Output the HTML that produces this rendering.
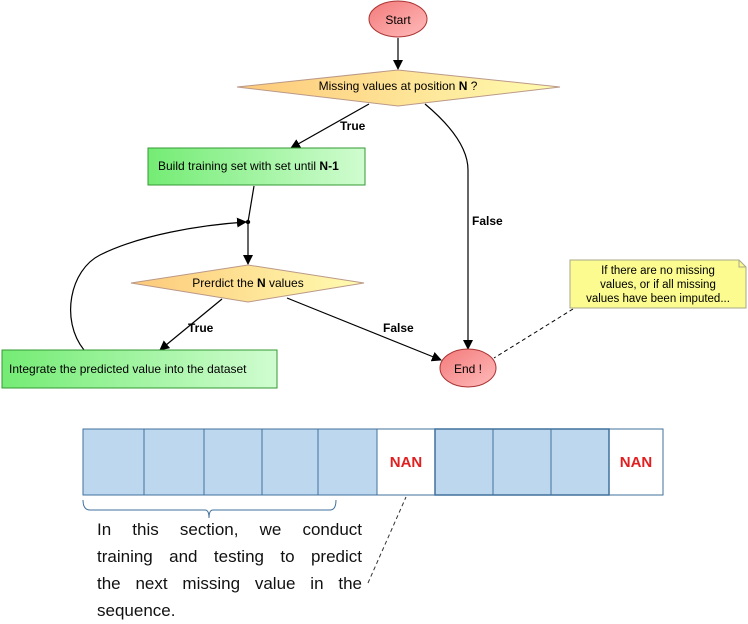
<!DOCTYPE html>
<html><head><style>
body{margin:0;background:#fff;width:748px;height:622px;overflow:hidden;position:relative;font-family:"Liberation Sans",sans-serif}
.t{position:absolute;left:97px;width:265px;font-size:17px;line-height:27px;text-align:justify;text-align-last:justify;color:#111}
</style></head><body>
<svg width="748" height="622" style="position:absolute;left:0;top:0" font-family="Liberation Sans, sans-serif">
<defs>
<linearGradient id="r" x1="0" y1="0" x2="1" y2="1"><stop offset="0" stop-color="#f37a7a"/><stop offset="1" stop-color="#fbb"/></linearGradient>
<linearGradient id="y" x1="0" y1="0" x2="1" y2="0"><stop offset="0" stop-color="#fdc97a"/><stop offset="1" stop-color="#fffcb0"/></linearGradient>
<linearGradient id="g" x1="0" y1="0" x2="1" y2="0"><stop offset="0" stop-color="#74ec74"/><stop offset="1" stop-color="#d0fcd0"/></linearGradient>
<marker id="a" markerWidth="10" markerHeight="10" refX="9" refY="5" orient="auto" markerUnits="userSpaceOnUse"><path d="M0,0 L10,5 L0,10 z" fill="#000"/></marker>
</defs>
<g stroke="#000" stroke-width="1.2" fill="none">
<line x1="398" y1="38" x2="398" y2="69" marker-end="url(#a)"/>
<line x1="369" y1="104" x2="291" y2="148" marker-end="url(#a)"/>
<path d="M425,104 Q468,140 468,170 L468,349" marker-end="url(#a)"/>
<line x1="254" y1="186" x2="248" y2="222"/>
<line x1="248" y1="222" x2="248" y2="264" marker-end="url(#a)"/>
<path d="M84,350 C60,320 70,270 100,255 C140,235 200,225 246,222" marker-end="url(#a)"/>
<line x1="222" y1="299" x2="160" y2="350" marker-end="url(#a)"/>
<line x1="287" y1="298" x2="441" y2="360" marker-end="url(#a)"/>
<line x1="573" y1="309" x2="494" y2="358" stroke-dasharray="4,3" stroke-width="1"/>
</g>
<circle cx="248" cy="222" r="2.2" fill="#000"/>
<ellipse cx="398" cy="19" rx="29" ry="18" fill="url(#r)" stroke="#a33" stroke-width="1"/>
<text x="398" y="24" font-size="12" text-anchor="middle">Start</text>
<polygon points="237,87 398,70 560,87 398,106" fill="url(#y)" stroke="#b98" stroke-width="1"/>
<text x="398" y="90" font-size="12" text-anchor="middle">Missing values at position <tspan font-weight="bold">N</tspan> ?</text>
<text x="340" y="130" font-size="12" font-weight="bold">True</text>
<rect x="148" y="148" width="217" height="37" fill="url(#g)" stroke="#393" stroke-width="1"/>
<text x="158" y="170" font-size="12">Build training set with set until  <tspan font-weight="bold">N-1</tspan></text>
<text x="472" y="225" font-size="12" font-weight="bold">False</text>
<polygon points="131,283 248,265 364,283 248,302" fill="url(#y)" stroke="#b98" stroke-width="1"/>
<text x="248" y="287" font-size="12" text-anchor="middle">Prerdict the <tspan font-weight="bold">N</tspan> values</text>
<text x="188" y="332" font-size="12" font-weight="bold">True</text>
<text x="383" y="332" font-size="12" font-weight="bold">False</text>
<rect x="2" y="350" width="275" height="38" fill="url(#g)" stroke="#393" stroke-width="1"/>
<text x="9" y="373" font-size="12">Integrate the predicted value into the dataset</text>
<ellipse cx="468" cy="368" rx="28" ry="19" fill="url(#r)" stroke="#a33" stroke-width="1"/>
<text x="468" y="373" font-size="12" text-anchor="middle">End !</text>
<path d="M570,260 L739,260 L746,267 L746,308 L570,308 Z" fill="#fbfb90" stroke="#aa8" stroke-width="1"/>
<path d="M739,260 L739,267 L746,267" fill="none" stroke="#aa8"/>
<text font-size="11.5" text-anchor="middle"><tspan x="658" y="274">If there are no missing</tspan><tspan x="658" y="288">values, or if all missing</tspan><tspan x="658" y="302">values have been imputed...</tspan></text>
<g stroke="#41719c" stroke-width="1">
<rect x="83" y="429" width="580" height="66" fill="#fff"/>
<rect x="83" y="429" width="294" height="66" fill="#bdd7ee"/>
<rect x="435" y="429" width="174" height="66" fill="#bdd7ee" stroke-width="1.5"/>
<line x1="144" y1="429" x2="144" y2="495"/><line x1="204" y1="429" x2="204" y2="495"/>
<line x1="262" y1="429" x2="262" y2="495"/><line x1="318" y1="429" x2="318" y2="495"/>
<line x1="493" y1="429" x2="493" y2="495"/><line x1="551" y1="429" x2="551" y2="495"/>
</g>
<text x="406" y="467" font-size="15" font-weight="bold" fill="#e02020" text-anchor="middle">NAN</text>
<text x="636" y="467" font-size="15" font-weight="bold" fill="#e02020" text-anchor="middle">NAN</text>
<path d="M83,500 Q83,510 90,510 L205,510 Q209,510 209,518 Q209,510 213,510 L330,510 Q336,510 336,500" fill="none" stroke="#41719c" stroke-width="1"/>
<line x1="368" y1="583" x2="406" y2="497" stroke="#333" stroke-dasharray="4,3" stroke-width="1"/>
</svg>
<div class="t" style="top:516px">In this section, we conduct</div>
<div class="t" style="top:543px">training and testing to predict</div>
<div class="t" style="top:570px">the next missing value in the</div>
<div class="t" style="top:597px;text-align-last:left">sequence.</div>
</body></html>
